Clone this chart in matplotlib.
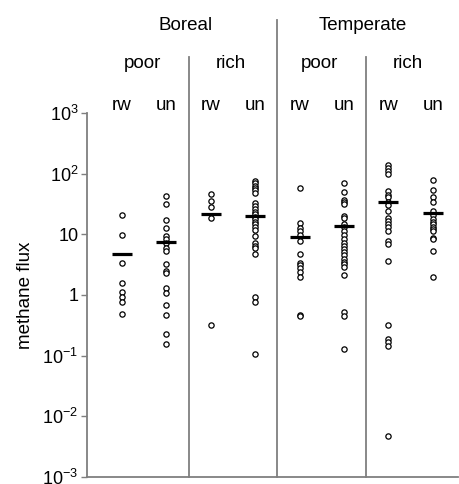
import numpy as np
import matplotlib
matplotlib.use("Agg")
import matplotlib.pyplot as plt

plt.rcParams['font.family'] = ['Liberation Sans', 'DejaVu Sans']
plt.rcParams['mathtext.default'] = 'regular'

# groups, left to right
regions = ["Boreal", "Temperate"]
fens = ["poor", "rich", "poor", "rich"]
treatments = ["rw", "un", "rw", "un", "rw", "un", "rw", "un"]

# methane flux values
boreal_poor_rw = [20.6, 9.75, 3.33, 1.56, 1.13, 0.94, 0.78, 0.48]
boreal_poor_un = [42.8, 31.6, 17.0, 12.6, 9.5, 8.4, 7.1, 5.9, 5.3, 3.3, 2.5, 2.3,
                  1.32, 1.09, 0.68, 0.46, 0.23, 0.156]
boreal_rich_rw = [46.2, 35.8, 28.5, 18.6, 0.324]
boreal_rich_un = [75.7, 69.4, 63.3, 58.1, 53.2, 48.6, 32.5, 29.3, 26.4, 23.6, 21.4,
                  19.5, 17.7, 16.0, 14.6, 13.2, 11.8, 9.4, 7.1, 6.4, 5.9, 4.7,
                  0.94, 0.78, 0.105]
temperate_poor_rw = [57.4, 15.2, 12.6, 11.3, 9.75, 7.8, 4.7, 3.4, 3.1, 2.75, 2.4,
                     1.96, 0.46, 0.45]
temperate_poor_un = [70.2, 49.9, 37.2, 34.1, 31.6, 20.3, 18.4, 14.6, 13.4, 11.5,
                     9.75, 8.4, 7.3, 6.4, 5.7, 5.1, 4.6, 3.9, 3.5, 3.2, 2.9, 2.1,
                     0.52, 0.45, 0.127]
temperate_rich_rw = [137, 122, 111, 98.7, 51.2, 44.5, 40.8, 33.7, 30.4, 24.5, 18.4,
                     16.6, 14.8, 13.4, 11.3, 7.9, 6.9, 3.7, 0.32, 0.19, 0.168,
                     0.146, 0.0048]
temperate_rich_un = [77.6, 54.4, 40.8, 33.7, 24.2, 20.8, 18.1, 16.2, 14.6, 13.1,
                     12.1, 11.5, 8.6, 8.3, 5.3, 1.96]
means = [4.7, 7.4, 21.6, 20.3, 8.9, 13.9, 33.7, 22.7]

series = [boreal_poor_rw, boreal_poor_un, boreal_rich_rw, boreal_rich_un,
          temperate_poor_rw, temperate_poor_un, temperate_rich_rw, temperate_rich_un]

ytick_vals = [1e-3, 1e-2, 1e-1, 1, 10, 1e2, 1e3]
ytick_labels = ['$10^{-3}$', '$10^{-2}$', '$10^{-1}$', '1', '10', '$10^{2}$', '$10^{3}$']

grey = '#7f7f7f'

fig = plt.figure(figsize=(4.59, 4.84), dpi=100)
ax = fig.add_axes([0.189, 0.0145, 0.809, 0.752])

for i, vals in enumerate(series):
    ax.plot(np.full(len(vals), i), vals, 'o', ms=3.8, mfc='white', mec='black',
            mew=0.9, linestyle='none')
    ax.plot(i, means[i], marker='_', ms=14, mew=2.3, color='black')

ax.set_yscale('log')
ax.set_ylim(1e-3, 1e3)
ax.set_xlim(-0.795, 7.57)
ax.set_yticks(ytick_vals)
ax.set_yticklabels(ytick_labels)
ax.minorticks_off()
ax.set_xticks([])
ax.tick_params(axis='y', direction='out', length=4, width=1, color=grey,
               labelsize=13, pad=2)
ax.set_ylabel('methane flux', fontsize=13.5, labelpad=6)

for s in ['top', 'right']:
    ax.spines[s].set_visible(False)
for s in ['left', 'bottom']:
    ax.spines[s].set_color(grey)
    ax.spines[s].set_linewidth(1.3)

# group dividers
tr = ax.get_xaxis_transform()
for xd, top in [(1.5, 1.154), (3.5, 1.256), (5.5, 1.154)]:
    ax.plot([xd, xd], [0, top], color=grey, lw=1.3, transform=tr, clip_on=False)

# header labels
for j, name in enumerate(regions):
    ax.text(1.42 + 4 * j, 1.228, name, transform=tr, ha='center', va='baseline',
            fontsize=13.5)
for j, name in enumerate(fens):
    ax.text(0.45 + 2 * j, 1.123, name, transform=tr, ha='center', va='baseline',
            fontsize=13.5)
for i, name in enumerate(treatments):
    ax.text(i, 1.008, name, transform=tr, ha='center', va='baseline', fontsize=13.5)

fig.savefig('out.png', dpi=100)
